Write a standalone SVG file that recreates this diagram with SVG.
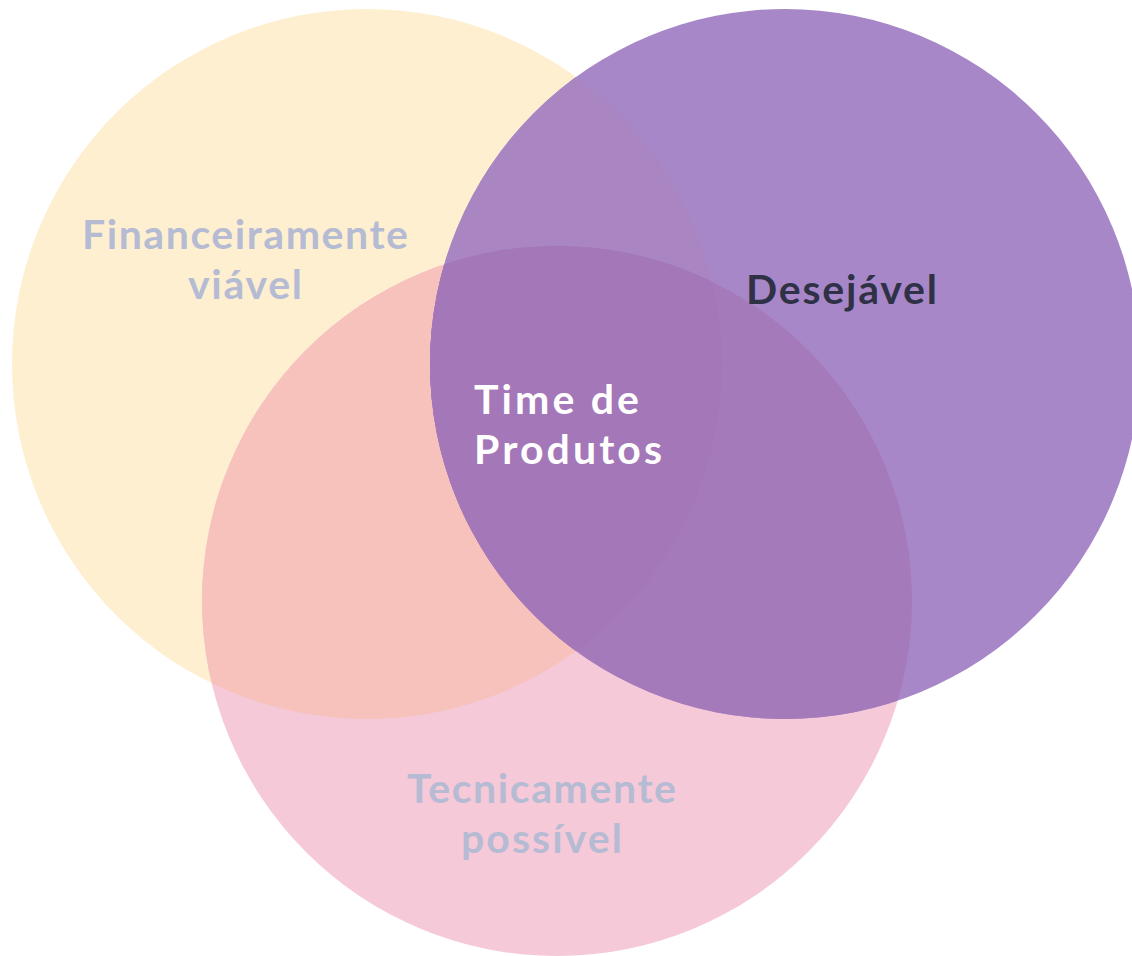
<svg xmlns="http://www.w3.org/2000/svg" width="1132" height="956" viewBox="0 0 1132 956">
  <style>
    .lbl { font-family: "Lato", "Open Sans", "DejaVu Sans", sans-serif; font-weight: 700; font-size: 41px; }
    .muted { fill: #B5BBD2; }
    .dark { fill: #2F3247; }
    .white { fill: #FFFFFF; }
  </style>
  <defs>
    <clipPath id="clipY"><circle cx="367" cy="364" r="355"/></clipPath>
    <clipPath id="clipP"><circle cx="557" cy="601" r="355"/></clipPath>
  </defs>
  <rect width="1132" height="956" fill="#FFFFFF"/>
  <g id="financeiramente">
    <circle cx="367" cy="364" r="355" fill="#FEEFD0"/>
  </g>
  <g id="tecnicamente">
    <circle cx="557" cy="601" r="355" fill="#F6C9D9"/>
    <circle cx="557" cy="601" r="355" fill="#F7C1BC" clip-path="url(#clipY)"/>
  </g>
  <g id="desejavel">
    <circle cx="785" cy="364" r="355" fill="#A887C9"/>
    <circle cx="785" cy="364" r="355" fill="#A986C2" clip-path="url(#clipY)"/>
    <circle cx="785" cy="364" r="355" fill="#A57ABA" clip-path="url(#clipP)"/>
    <g clip-path="url(#clipY)">
      <circle cx="785" cy="364" r="355" fill="#A477B8" clip-path="url(#clipP)"/>
    </g>
  </g>
  <g id="labels">
    <text class="lbl muted" x="82" y="249" textLength="326" lengthAdjust="spacing">Financeiramente</text>
    <text class="lbl muted" x="188" y="299" textLength="114" lengthAdjust="spacing">viável</text>
    <text class="lbl dark" x="746" y="304" textLength="191" lengthAdjust="spacing">Desejável</text>
    <text class="lbl white" x="474" y="414" textLength="165" lengthAdjust="spacing">Time de</text>
    <text class="lbl white" x="474" y="464" textLength="188" lengthAdjust="spacing">Produtos</text>
    <text class="lbl muted" x="407" y="803" textLength="269" lengthAdjust="spacing">Tecnicamente</text>
    <text class="lbl muted" x="461" y="853" textLength="161" lengthAdjust="spacing">possível</text>
  </g>
</svg>
